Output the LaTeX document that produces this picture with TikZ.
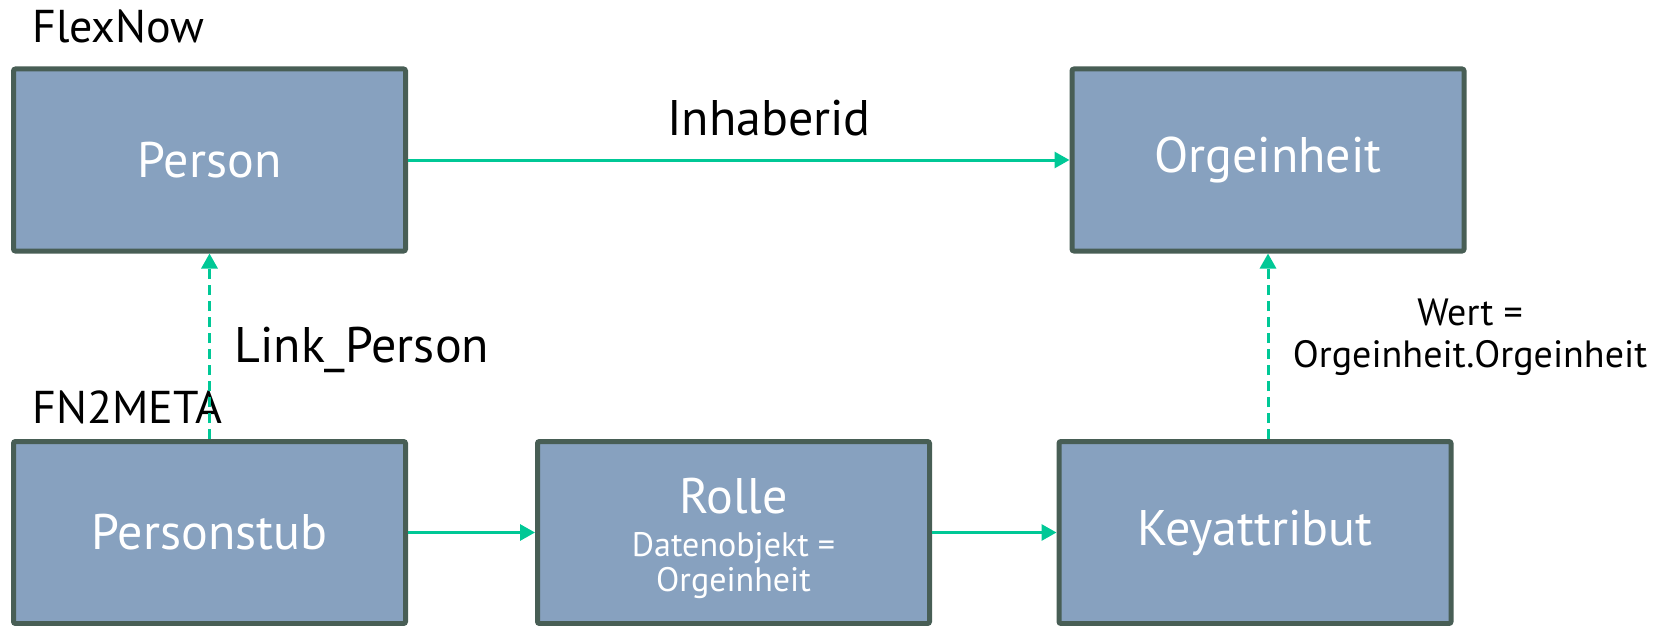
\documentclass[tikz,border=0pt]{standalone}
\usepackage{fontspec}
\setmainfont{PT Sans}
\usetikzlibrary{arrows.meta}
\definecolor{boxfill}{RGB}{135,161,191}
\definecolor{boxline}{RGB}{72,94,85}
\definecolor{arrowc}{RGB}{0,200,150}
\begin{document}
\begin{tikzpicture}[x=0.5pt,y=-0.5pt,
  entity/.style={draw=boxline, fill=boxfill, line width=2.5pt, rounded corners=1pt,
    minimum width=196pt, minimum height=91pt, inner sep=0pt, text=white,
    font=\fontsize{25}{29}\selectfont, align=center},
  conn/.style={draw=arrowc, line width=1.5pt, -{Triangle[length=7.5pt,width=8pt]}},
  dconn/.style={conn, dash pattern=on 5pt off 3pt},
  biglabel/.style={font=\fontsize{25}{29}\selectfont, inner sep=0pt},
  grouplabel/.style={font=\fontsize{23}{27}\selectfont, inner sep=0pt, anchor=base west},
  wertlabel/.style={font=\fontsize{19}{23}\selectfont, inner sep=0pt, anchor=base},
  rollesmall/.style={font=\fontsize{17}{21}\selectfont, text=white, inner sep=0pt, anchor=base}
]
\useasboundingbox (0,0) rectangle (1670,626);
\node[entity] (person) at (209.5,160) {Person};
\node[entity] (org) at (1268,160) {Orgeinheit};
\node[entity] (stub) at (209.5,532.5) {Personstub};
\node[entity] (rolle) at (733.5,532.5) {};
\node[entity] (key) at (1255,532.5) {Keyattribut};
\node[font=\fontsize{25}{29}\selectfont, text=white, inner sep=0pt, anchor=base] (rolletxt) at (733.5,513) {Rolle};
\node[rollesmall] (rollesub) at (733.5,556) {Datenobjekt =};
\node[rollesmall] (rollesub2) at (733.5,591) {Orgeinheit};
\node[grouplabel] (flexnow) at (32,43) {FlexNow};
\node[grouplabel] (fnmeta) at (32,423) {FN2META};
\node[biglabel, anchor=base] (inh) at (769,135) {Inhaberid};
\node[biglabel, anchor=base west] (link) at (234,362) {Link\_Person};
\node[wertlabel] (wert) at (1470,325) {Wert =};
\node[wertlabel] (wert2) at (1470,367) {Orgeinheit.Orgeinheit};
\draw[conn] (person.east) -- (org.west);
\draw[conn] (stub.east) -- (rolle.west);
\draw[conn] (rolle.east) -- (key.west);
\draw[dconn] (stub.north) -- (person.south);
\draw[dconn] (key.north -| org.south) -- (org.south);
\end{tikzpicture}
\end{document}
